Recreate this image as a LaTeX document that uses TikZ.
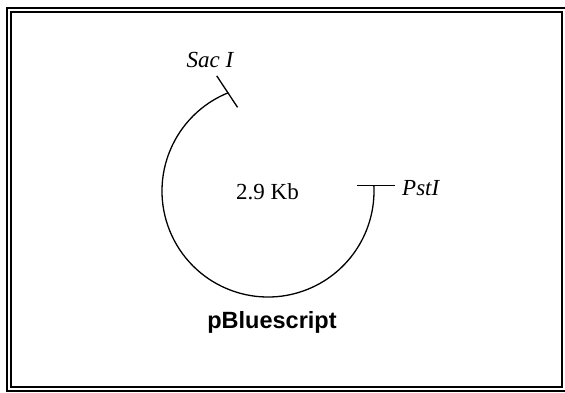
\documentclass[tikz,border=0pt]{standalone}
\usepackage{fontspec}
\setmainfont{Liberation Serif}
\newfontfamily\arialfont{Liberation Sans}
\usetikzlibrary{calc}
\tikzset{
  frameline/.style={line width=1.1pt, draw=black},
  plasmid/.style={line width=1.3pt, draw=black},
  sitetick/.style={line width=1.3pt, draw=black},
  sitelabel/.style={font=\fontsize{23}{26}\selectfont\itshape, inner sep=0pt, anchor=base},
  sizelabel/.style={font=\fontsize{23}{26}\selectfont, inner sep=0pt, anchor=base},
  namelabel/.style={font=\arialfont\bfseries\fontsize{23.5}{27}\selectfont, inner sep=0pt, anchor=base}
}
\begin{document}
\begin{tikzpicture}[x=1pt,y=1pt]
\useasboundingbox (0,0) rectangle (565,-393);
% double frame
\draw[frameline] (7,-8) rectangle (566,-391);
\draw[frameline] (11,-12) rectangle (562,-387);
% plasmid circle
\coordinate (c) at (268,-191);
\coordinate (sacpt) at ($(c)+(112:106)$);
\coordinate (pstpt) at ($(c)+(363:106)$);
\draw[plasmid] (sacpt) arc[start angle=112, end angle=363, radius=106];
% restriction site ticks
\coordinate (sacin) at ($(c)+(110:89)$);
\coordinate (sacout) at ($(c)+(114:126)$);
\draw[sitetick] (sacin) -- (sacout);
\coordinate (pstin) at ($(pstpt)+(-17,0)$);
\coordinate (pstout) at ($(pstpt)+(21,0)$);
\draw[sitetick] (pstin) -- (pstout);
% labels
\node[sitelabel] (sac) at (210,-68) {Sac I};
\node[sitelabel, anchor=base west] (pst) at (402,-195) {PstI};
\node[sizelabel] (kb) at (267.5,-200) {2.9 Kb};
\node[namelabel] (name) at (272,-328.5) {pBluescript};
\end{tikzpicture}
\end{document}
